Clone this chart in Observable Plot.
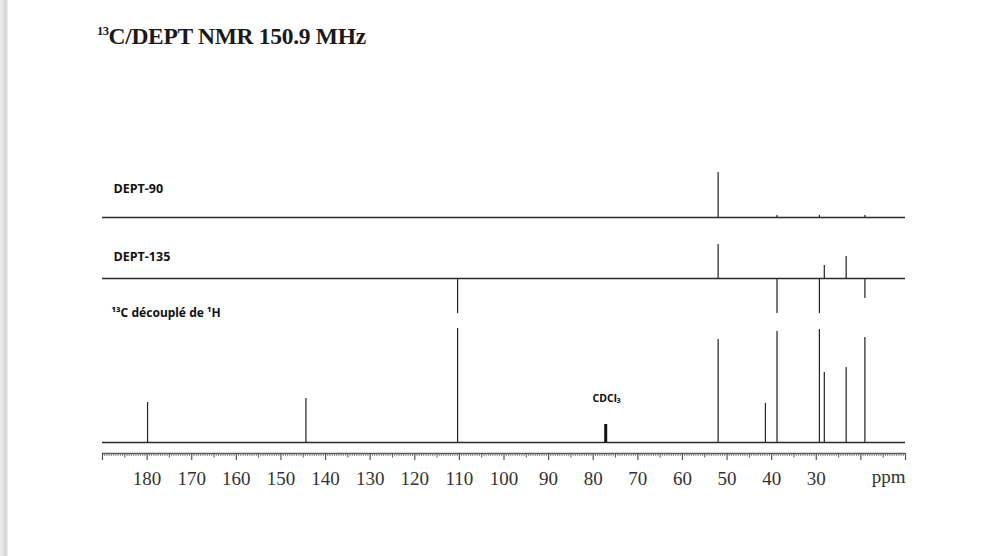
<!DOCTYPE html>
<html>
<head>
<meta charset="utf-8">
<script src="https://cdn.jsdelivr.net/npm/d3@7"></script>
<script src="https://cdn.jsdelivr.net/npm/@observablehq/plot@0.6"></script>
<style>
  html, body { margin: 0; padding: 0; }
  body {
    width: 995px; height: 556px; overflow: hidden;
    background: linear-gradient(to right, #ececec 0px, #e6e6e6 3px, #dadada 4px, #d8d8d8 7px, #ffffff 8px);
  }
  #wrap { position: relative; width: 995px; height: 556px; }
  #title {
    position: absolute; left: 97px; top: 23px;
    font-family: "Liberation Serif", "Times New Roman", serif;
    font-weight: bold; font-size: 23.5px; color: #1a1a1a; white-space: nowrap;
    letter-spacing: -0.3px;
  }
  #title sup { font-size: 12.5px; vertical-align: 0; position: relative; top: -9px; letter-spacing: -0.5px; }
  #chart { position: absolute; left: 0; top: 70px; }
</style>
</head>
<body>
<div id="wrap">
  <div id="title"><sup>13</sup>C/DEPT NMR 150.9 MHz</div>
  <div id="chart"></div>
</div>
<script>
// ---- data (chemical shifts in ppm, intensities in arbitrary units) ----
const c13Shifts   = [179.9, 144.4, 110.4, 52.0, 41.4, 38.8, 29.3, 28.2, 23.3, 19.1];
const c13Heights  = [40, 44, 114, 103, 39, 111, 113, 70, 75, 105];
const solventShift = [77.2];
const solventHeight = [18];
const dept135Shifts  = [110.4, 52.0, 38.8, 29.3, 28.2, 23.3, 19.1];
const dept135Heights = [-35, 34, -35, -35, 13, 22, -20];
const dept90Shifts   = [52.0, 38.8, 29.3, 19.1];
const dept90Heights  = [45, 2, 2, 2];
const majorTicks = [180, 170, 160, 150, 140, 130, 120, 110, 100, 90, 80, 70, 60, 50, 40, 30];
const spectrumLabels = ["DEPT-90", "DEPT-135", "\u00B9\u00B3C découplé de \u00B9H"];
const solventLabel = "CDCl\u2083";
const axisUnit = "ppm";

// ---- layout of the stacked traces (vertical offsets, in intensity units) ----
const base13C = 0, base135 = 164, base90 = 225;
const xDomain = [190, 10];

const peaks = (shifts, heights, base) => shifts.map((s, i) => ({x: s, y1: base, y2: base + heights[i]}));

const minorTicks = d3.range(10, 190.01, 0.5).filter(v => v % 5 !== 0);
const midTicks = d3.range(15, 190, 10);
const tenTicks = d3.range(10, 190.01, 10);

const font = "'Open Sans', 'Noto Sans', sans-serif";
const serif = "'Liberation Serif', 'Times New Roman', serif";

const chart = Plot.plot({
  width: 995,
  height: 486,
  marginLeft: 102,
  marginRight: 90,
  marginTop: 0,
  marginBottom: 103,
  style: {background: "transparent", color: "#111"},
  x: {domain: xDomain, label: null},
  y: {domain: [-11, 372], axis: null},
  marks: [
    // axis line
    Plot.ruleY([-11], {x1: xDomain[0], x2: xDomain[1], stroke: "#555", strokeWidth: 1.4}),
    // ticks
    Plot.axisX(minorTicks, {tickSize: 3, fill: "none", stroke: "#666", strokeWidth: 0.8}),
    Plot.axisX(midTicks, {tickSize: 4.5, fill: "none", stroke: "#555", strokeWidth: 1}),
    Plot.axisX(tenTicks, {tickSize: 7, fill: "none", stroke: "#555", strokeWidth: 1.2}),
    Plot.axisX(majorTicks, {tickSize: 0, tickPadding: 18, fill: "#333",
      fontFamily: serif, fontSize: 19}),
    Plot.text([axisUnit], {frameAnchor: "bottom-right", textAnchor: "end", dy: 29, dx: 0,
      fontFamily: serif, fontSize: 19, fill: "#333"}),
    // baselines
    Plot.ruleY([base90, base135, base13C], {x1: xDomain[0], x2: xDomain[1], stroke: "#2a2a2a", strokeWidth: 1.5}),
    // peaks
    Plot.ruleX(peaks(dept90Shifts, dept90Heights, base90), {x: "x", y1: "y1", y2: "y2", stroke: "#222", strokeWidth: 1.2}),
    Plot.ruleX(peaks(dept135Shifts, dept135Heights, base135), {x: "x", y1: "y1", y2: "y2", stroke: "#222", strokeWidth: 1.2}),
    Plot.ruleX(peaks(c13Shifts, c13Heights, base13C), {x: "x", y1: "y1", y2: "y2", stroke: "#222", strokeWidth: 1.2}),
    Plot.ruleX(peaks(solventShift, solventHeight, base13C), {x: "x", y1: "y1", y2: "y2", stroke: "#111", strokeWidth: 3}),
    // labels
    Plot.text([spectrumLabels[0]], {frameAnchor: "left", y: [254], dx: 11, textAnchor: "start",
      fontFamily: font, fontWeight: "bold", fontSize: 12.5, fill: "#111"}),
    Plot.text([spectrumLabels[1]], {frameAnchor: "left", y: [186], dx: 11, textAnchor: "start",
      fontFamily: font, fontWeight: "bold", fontSize: 12.5, fill: "#111"}),
    Plot.text([spectrumLabels[2]], {frameAnchor: "left", y: [129], dx: 9, textAnchor: "start",
      fontFamily: "'Noto Sans', 'Open Sans', sans-serif", fontWeight: "bold", fontSize: 12, fill: "#111"}),
    Plot.text([solventLabel], {x: solventShift, y: [44], dx: 1, textAnchor: "middle",
      fontFamily: "'Noto Sans', 'Open Sans', sans-serif", fontWeight: "bold", fontSize: 10.5, fill: "#111"})
  ]
});
document.getElementById("chart").appendChild(chart);
</script>
</body>
</html>
